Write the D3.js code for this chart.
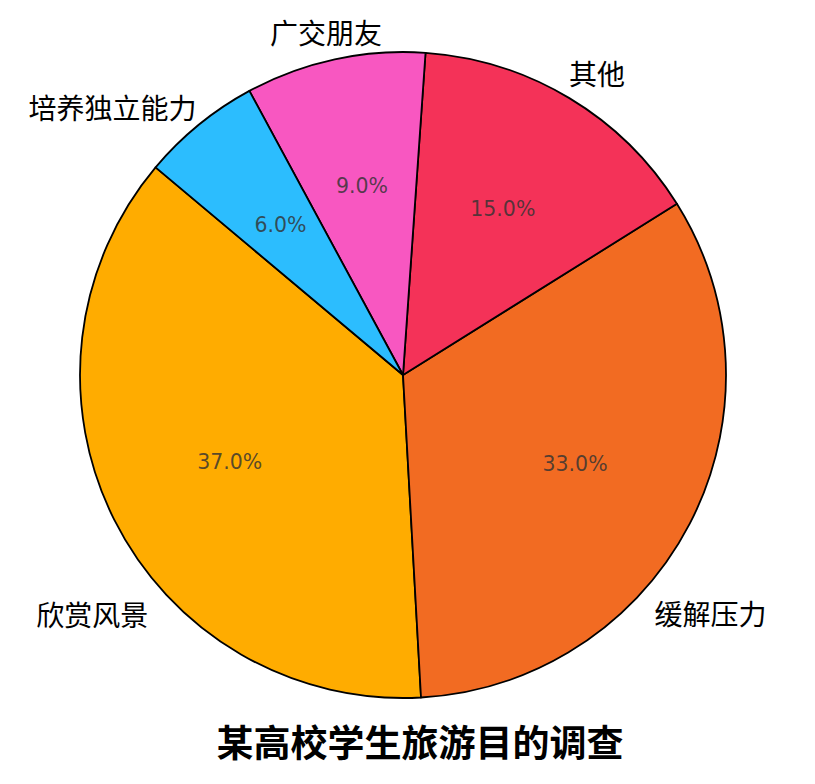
<!DOCTYPE html>
<html>
<head>
<meta charset="utf-8">
<script src="https://cdn.jsdelivr.net/npm/d3@7"></script>
<style>
  html, body { margin: 0; padding: 0; background: #fff; }
  svg { display: block; }
</style>
</head>
<body>
<script>
// ---- data ----
const categories = ["欣赏风景", "缓解压力", "其他", "广交朋友", "培养独立能力"];
const values = [37, 33, 15, 9, 6];
const colors = ["#FFAC00", "#F26B22", "#F43258", "#F857C1", "#2CBDFE"];
const title = "某高校学生旅游目的调查";

// ---- layout ----
const W = 815, H = 784;
const cx = 403, cy = 375, R = 323;
const startDeg = 140; // counter-clockwise from 3 o'clock
// small label nudges (px) to match the reference layout
const labelNudge = {
  "欣赏风景": [7, 80],
  "缓解压力": [-8, 74],
  "其他": [11, 3],
  "广交朋友": [-2, 4],
  "培养独立能力": [-66, 7]
};

const svg = d3.select("body").append("svg").attr("width", W).attr("height", H);
const g = svg.append("g").attr("transform", `translate(${cx},${cy})`);

// Convert matplotlib-style ccw angle to d3 angle (clockwise from 12 o'clock)
const toD3 = deg => (90 - deg) * Math.PI / 180;
const total = d3.sum(values);
const angleScale = d3.scaleLinear().domain([0, total]).range([startDeg, startDeg + 360]);

let acc = 0;
const slices = values.map((v, i) => {
  const a0 = angleScale(acc), a1 = angleScale(acc + v);
  acc += v;
  return { cat: categories[i], value: v, color: colors[i], a0, a1, mid: (a0 + a1) / 2 };
});

const arc = d3.arc().innerRadius(0).outerRadius(R);

g.selectAll("path.slice").data(slices).join("path")
  .attr("class", "slice")
  .attr("d", d => arc({ startAngle: toD3(d.a1), endAngle: toD3(d.a0) }))
  .attr("fill", d => d.color)
  .attr("stroke", "#000")
  .attr("stroke-width", 1.8)
  .attr("stroke-linejoin", "round");

// percentage labels
g.selectAll("text.pct").data(slices).join("text")
  .attr("class", "pct")
  .attr("x", d => 0.6 * R * Math.cos(d.mid * Math.PI / 180))
  .attr("y", d => -0.6 * R * Math.sin(d.mid * Math.PI / 180))
  .attr("text-anchor", "middle")
  .attr("dominant-baseline", "central")
  .attr("font-family", "DejaVu Sans, sans-serif")
  .attr("font-size", 20.5)
  .attr("fill", "#333")
  .attr("fill-opacity", 0.82)
  .text(d => (d.value / total * 100).toFixed(1) + "%");

// category labels
g.selectAll("text.cat").data(slices).join("text")
  .attr("class", "cat")
  .attr("x", d => 1.1 * R * Math.cos(d.mid * Math.PI / 180) + labelNudge[d.cat][0])
  .attr("y", d => -1.1 * R * Math.sin(d.mid * Math.PI / 180) + labelNudge[d.cat][1])
  .attr("text-anchor", "middle")
  .attr("dominant-baseline", "central")
  .attr("font-family", "Noto Sans CJK SC, sans-serif")
  .attr("font-size", 28)
  .attr("fill", "#000")
  .text(d => d.cat);

// title
svg.append("text")
  .attr("x", 420)
  .attr("y", 741)
  .attr("text-anchor", "middle")
  .attr("dominant-baseline", "central")
  .attr("font-family", "Noto Sans CJK SC, sans-serif")
  .attr("font-weight", "bold")
  .attr("font-size", 37)
  .attr("fill", "#000")
  .text(title);
</script>
</body>
</html>
